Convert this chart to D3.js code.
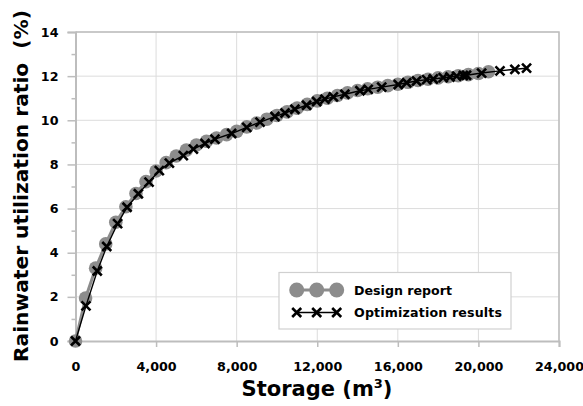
<!DOCTYPE html>
<html>
<head>
<meta charset="utf-8">
<script src="https://cdn.jsdelivr.net/npm/d3@7"></script>
<style>
body { margin: 0; background: #fff; }
text { font-family: "DejaVu Sans", sans-serif; font-weight: bold; fill: #000; }
</style>
</head>
<body>
<div id="chart"></div>
<script>
// data
const designStorage = [0, 500, 1000, 1500, 2000, 2500, 3000, 3500, 4000, 4500, 5000, 5500, 6000, 6500, 7000, 7500, 8000, 8500, 9000, 9500, 10000,
  10500, 11000, 11500, 12000, 12500, 13000, 13500, 14000, 14500, 15000, 15500, 16000, 16500, 17000, 17500, 18000, 18500, 19000, 19500, 20000, 20500];
const designRatio = [0, 1.95, 3.3, 4.4, 5.38, 6.08, 6.68, 7.22, 7.7, 8.08, 8.38, 8.65, 8.88, 9.05, 9.2, 9.35, 9.5, 9.7, 9.88, 10.05, 10.22,
  10.38, 10.55, 10.72, 10.88, 11.0, 11.12, 11.24, 11.35, 11.43, 11.5, 11.57, 11.63, 11.72, 11.8, 11.86, 11.92, 11.97, 12.02, 12.07, 12.12, 12.2];

const optStorage = [0, 520, 1080, 1550, 2090, 2560, 3120, 3650, 4160, 4660, 5350, 5850, 6430, 6920, 7750, 8500, 9160, 9900, 10400, 10890,
  11470, 11970, 12380, 12800, 13370, 14120, 14530, 15200, 16020, 16440, 16930, 17430, 17760, 18250, 18590, 18920, 19250, 19410, 20160, 21070, 21810, 22390];
const optRatio = [0, 1.59, 3.17, 4.28, 5.32, 6.06, 6.67, 7.2, 7.72, 8.06, 8.4, 8.69, 8.95, 9.15, 9.4, 9.68, 9.92, 10.17, 10.33, 10.5,
  10.68, 10.85, 10.96, 11.06, 11.18, 11.34, 11.4, 11.5, 11.62, 11.7, 11.78, 11.84, 11.87, 11.93, 11.96, 12.0, 12.03, 12.04, 12.14, 12.24, 12.31, 12.36];

const xTicks = [0, 4000, 8000, 12000, 16000, 20000, 24000];
const yTicks = [0, 2, 4, 6, 8, 10, 12, 14];
const yMinor = [1, 3, 5, 7, 9, 11, 13];
const seriesNames = ["Design report", "Optimization results"];

const width = 583, height = 406;
const margin = { top: 32, right: 24, bottom: 65, left: 75.5 };

const design = designStorage.map((s, i) => ({ s: s, r: designRatio[i] }));
const opt = optStorage.map((s, i) => ({ s: s, r: optRatio[i] }));

const svg = d3.select("#chart").append("svg")
  .attr("width", width)
  .attr("height", height);

const x = d3.scaleLinear().domain([0, 24000]).range([margin.left, width - margin.right]);
const y = d3.scaleLinear().domain([0, 14]).range([height - margin.bottom, margin.top]);

// grid
svg.append("g").selectAll("line")
  .data(xTicks.slice(1))
  .join("line")
  .attr("x1", d => x(d)).attr("x2", d => x(d))
  .attr("y1", y(0)).attr("y2", y(14))
  .attr("stroke", "#dcdcdc").attr("stroke-width", 1);
svg.append("g").selectAll("line")
  .data(yTicks.slice(1))
  .join("line")
  .attr("x1", x(0)).attr("x2", x(24000))
  .attr("y1", d => y(d)).attr("y2", d => y(d))
  .attr("stroke", "#dcdcdc").attr("stroke-width", 1);

// frame (top + right)
svg.append("path")
  .attr("d", `M${x(0)},${y(14)}H${x(24000)}V${y(0)}`)
  .attr("fill", "none").attr("stroke", "#bdbdbd").attr("stroke-width", 1.5);

// axes
const fmt = d3.format(",");
svg.append("g")
  .attr("transform", `translate(0,${y(0)})`)
  .call(d3.axisBottom(x).tickValues(xTicks).tickFormat(fmt).tickSize(6).tickPadding(15));
svg.append("g")
  .attr("transform", `translate(${x(0)},0)`)
  .call(d3.axisLeft(y).tickValues(yTicks).tickSize(8).tickPadding(9));
svg.append("g")
  .attr("transform", `translate(${x(0)},0)`)
  .call(d3.axisLeft(y).tickValues(yMinor).tickSize(4).tickFormat(""))
  .select(".domain").remove();

svg.selectAll(".domain").attr("stroke", "#bdbdbd").attr("stroke-width", 2);
svg.selectAll(".tick line").attr("stroke", "#bdbdbd").attr("stroke-width", 1.5);
svg.selectAll(".tick text")
  .style("font-family", "'DejaVu Sans', sans-serif")
  .style("font-weight", "bold")
  .style("font-size", "12.7px")
  .attr("fill", "#000");

// design report series
const line = d3.line().x(d => x(d.s)).y(d => y(d.r));
svg.append("path")
  .datum(design)
  .attr("d", line)
  .attr("fill", "none")
  .attr("stroke", "#8c8c8c")
  .attr("stroke-width", 3);
svg.append("g").selectAll("circle")
  .data(design)
  .join("circle")
  .attr("cx", d => x(d.s))
  .attr("cy", d => y(d.r))
  .attr("r", 6.8)
  .attr("fill", "#8c8c8c");

// optimization series
svg.append("path")
  .datum(opt)
  .attr("d", line)
  .attr("fill", "none")
  .attr("stroke", "#000")
  .attr("stroke-width", 1.4);
const cross = 4.5;
svg.append("g").selectAll("path")
  .data(opt)
  .join("path")
  .attr("d", d => {
    const cx = x(d.s), cy = y(d.r);
    return `M${cx - cross},${cy - cross}L${cx + cross},${cy + cross}M${cx - cross},${cy + cross}L${cx + cross},${cy - cross}`;
  })
  .attr("stroke", "#000")
  .attr("stroke-width", 2.6)
  .attr("fill", "none");

// legend
const lg = svg.append("g");
lg.append("rect")
  .attr("x", 279).attr("y", 272.5)
  .attr("width", 232).attr("height", 56.5)
  .attr("fill", "#fff").attr("stroke", "#d0d0d0").attr("stroke-width", 1.2);
const lx = [296.7, 316.7, 336.7];
lg.append("line").attr("x1", lx[0]).attr("x2", lx[2]).attr("y1", 290).attr("y2", 290)
  .attr("stroke", "#8c8c8c").attr("stroke-width", 3);
lg.selectAll("circle.lg").data(lx).join("circle")
  .attr("class", "lg")
  .attr("cx", d => d).attr("cy", 290).attr("r", 7.5).attr("fill", "#8c8c8c");
lg.append("line").attr("x1", lx[0]).attr("x2", lx[2]).attr("y1", 312.5).attr("y2", 312.5)
  .attr("stroke", "#000").attr("stroke-width", 1.4);
lg.selectAll("path.lg").data(lx).join("path")
  .attr("class", "lg")
  .attr("d", d => `M${d - cross},${312.5 - cross}L${d + cross},${312.5 + cross}M${d - cross},${312.5 + cross}L${d + cross},${312.5 - cross}`)
  .attr("stroke", "#000").attr("stroke-width", 2.6);
lg.selectAll("text").data(seriesNames).join("text")
  .attr("x", 354)
  .attr("y", (d, i) => i === 0 ? 294.5 : 317)
  .attr("textLength", (d, i) => i === 0 ? 98 : 148)
  .style("font-size", "12.6px")
  .text(d => d);

// axis titles
const xt = svg.append("text")
  .attr("x", 317).attr("y", 396)
  .attr("text-anchor", "middle")
  .style("font-size", "21px");
xt.append("tspan").text("Storage (m");
xt.append("tspan").text("3").attr("dy", -8).style("font-size", "13px");
xt.append("tspan").text(")").attr("dy", 8);

svg.append("text")
  .attr("transform", "translate(28,186) rotate(-90)")
  .attr("text-anchor", "middle")
  .style("font-size", "19.5px")
  .attr("textLength", 352)
  .attr("lengthAdjust", "spacingAndGlyphs")
  .attr("xml:space", "preserve")
  .text("Rainwater utilization ratio  (%)");
</script>
</body>
</html>
